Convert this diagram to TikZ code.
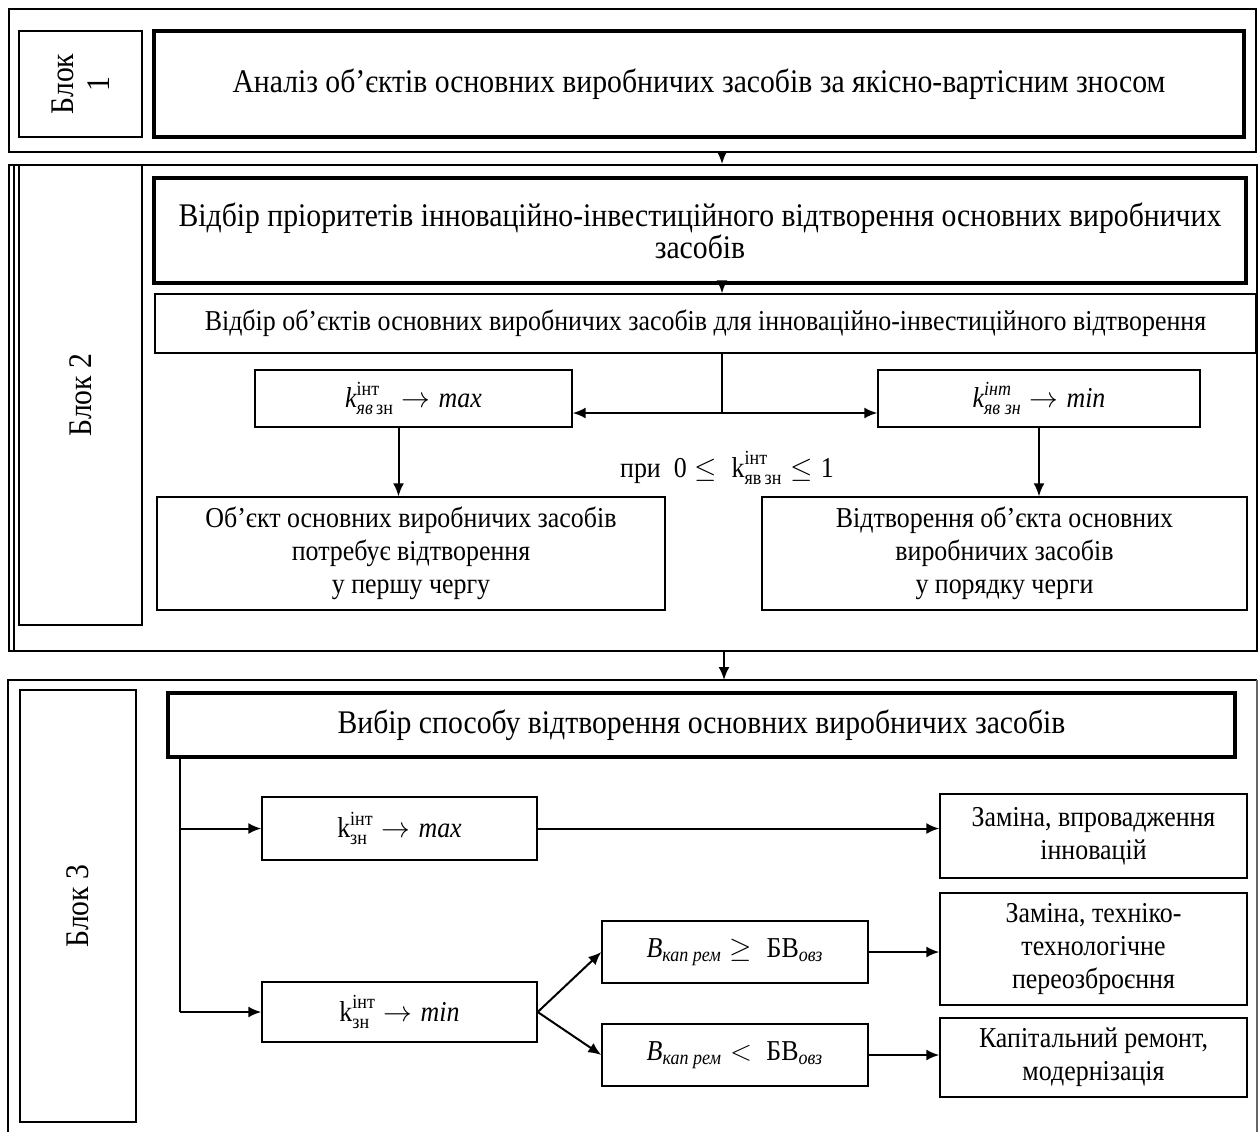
\documentclass[tikz,border=0pt]{standalone}
\usepackage{fontspec}
\setmainfont{Liberation Serif}[FakeStretch=0.9]
\usepackage{amsmath}
\usetikzlibrary{arrows.meta}

\begin{document}
\begin{tikzpicture}[x=0.5pt,y=-0.5pt,
    frame/.style={draw=black,line width=1.3pt,inner sep=0pt},
    blocklabel/.style={draw=black,line width=.7pt,rotate=90,align=center,inner sep=0pt,font=\fontsize{16.5}{18}\selectfont},
    mainbox/.style={draw=black,line width=2.2pt,align=center,inner sep=0pt,font=\fontsize{16.5}{16}\selectfont},
    box/.style={draw=black,line width=.7pt,align=center,inner sep=0pt,font=\fontsize{14.4}{16.5}\selectfont},
    link/.style={line width=1pt,-{Latex[length=6.5pt,width=5.5pt]}},
    wire/.style={line width=1pt}]
    \useasboundingbox (0,0) rectangle (1259,1131);

    % block 1
    \node[frame,minimum width=623.5pt,minimum height=71.5pt] (f1) at (632.5,80.5) {};
    \node[blocklabel,minimum width=53pt,minimum height=61.5pt] (lab1) at (80.5,84) {Блок\\1};
    \node[mainbox,minimum width=545pt,minimum height=53pt] (box1) at (699,84)
        {Аналіз об’єктів основних виробничих засобів за якісно-вартісним зносом};

    % block 2
    \node[frame,line width=1pt,minimum width=624pt,minimum height=243pt] (f2) at (633,408) {};
    \draw[line width=.6pt] (14,165) -- (14,651);
    \node[blocklabel,minimum width=230pt,minimum height=61.5pt] (lab2) at (80.5,395) {Блок 2};
    \node[mainbox,minimum width=546pt,minimum height=52.5pt] (box2a) at (700,230.5)
        {Відбір пріоритетів інноваційно-інвестиційного відтворення основних виробничих\\засобів};
    \node[box,minimum width=550.5pt,minimum height=29.5pt] (box2b) at (705.5,323.5)
        {Відбір об’єктів основних виробничих засобів для інноваційно-інвестиційного відтворення};
    \node[box,minimum width=158.5pt,minimum height=28.5pt] (kmax2) at (413.5,398.5)
        {$\textit{k}^{\text{інт}}_{\textit{яв}\,\text{зн}}\rightarrow\textit{max}$};
    \node[box,minimum width=161pt,minimum height=28.5pt] (kmin2) at (1039,398.5)
        {$\textit{k}^{\textit{інт}}_{\textit{яв зн}}\rightarrow\textit{min}$};
    \node[font=\fontsize{14.4}{16.5}\selectfont] (cond) at (727,468)
        {при\ \ $\text{0}\le\ \text{k}^{\text{інт}}_{\text{яв\,зн}}\le\text{1}$};
    \node[box,minimum width=254pt,minimum height=56.5pt] (obj2) at (411,553.5)
        {Об’єкт основних виробничих засобів\\потребує відтворення\\у першу чергу};
    \node[box,minimum width=242.5pt,minimum height=56.5pt] (vid2) at (1004.5,553.5)
        {Відтворення об’єкта основних\\виробничих засобів\\у порядку черги};

    % block 3
    \draw[line width=1.3pt] (8,1140) -- (8,680) -- (1257,680);
    \draw[line width=.6pt,black!60] (1257,680) -- (1257,1140);
    \coordinate (f3) at (724,680);
    \node[blocklabel,minimum width=216pt,minimum height=58pt] (lab3) at (78,906) {Блок 3};
    \node[mainbox,minimum width=533.5pt,minimum height=32pt] (box3) at (701.5,725)
        {Вибір способу відтворення основних виробничих засобів};
    \node[box,minimum width=137.5pt,minimum height=31.5pt] (kmax3) at (399.5,828.5)
        {$\text{k}^{\text{інт}}_{\text{зн}}\rightarrow\textit{max}$};
    \node[box,minimum width=137.5pt,minimum height=30pt] (kmin3) at (399.5,1012)
        {$\text{k}^{\text{інт}}_{\text{зн}}\rightarrow\textit{min}$};
    \node[box,minimum width=133pt,minimum height=31pt] (bge) at (735,952)
        {$\textit{B}_{\textit{кап рем}}\ge\ \text{БВ}_{\textit{овз}}$};
    \node[box,minimum width=133pt,minimum height=31pt] (blt) at (735,1055)
        {$\textit{B}_{\textit{кап рем}}<\ \text{БВ}_{\textit{овз}}$};
    \node[box,minimum width=153.5pt,minimum height=42pt] (zv) at (1093.5,836)
        {Заміна, впровадження\\інновацій};
    \node[box,minimum width=153.5pt,minimum height=56pt] (zt) at (1093.5,949)
        {Заміна, техніко-\\технологічне\\переозброєння};
    \node[box,minimum width=153.5pt,minimum height=39.5pt] (kr) at (1093.5,1057.5)
        {Капітальний ремонт,\\модернізація};

    % connectors
    \coordinate (ax) at (722,0);
    \coordinate (split) at (722,413);
    \coordinate (trunk) at (180,0);
    \draw[link] (f1.south -| ax) -- (f2.north -| ax);
    \draw[link] (box2a.south -| ax) -- (box2b.north -| ax);
    \draw[wire] (box2b.south -| split) -- (split);
    \draw[link] (split) -- (split -| kmax2.east);
    \draw[link] (split) -- (split -| kmin2.west);
    \draw[link] ([xshift=-7.5pt]kmax2.south) -- ([xshift=-7.5pt]kmax2.south |- obj2.north);
    \draw[link] (kmin2.south) -- (kmin2.south |- vid2.north);
    \draw[link] (f2.south -| f3) -- (f3);
    \draw[wire] (box3.south -| trunk) -- (trunk |- kmin3.west);
    \draw[link] (trunk |- kmax3.west) -- (kmax3.west);
    \draw[link] (trunk |- kmin3.west) -- (kmin3.west);
    \draw[link] (kmax3.east) -- (kmax3.east -| zv.west);
    \draw[link] (kmin3.east) -- (bge.west);
    \draw[link] (kmin3.east) -- (blt.west);
    \draw[link] (bge.east) -- (bge.east -| zt.west);
    \draw[link] (blt.east) -- (blt.east -| kr.west);
\end{tikzpicture}
\end{document}
